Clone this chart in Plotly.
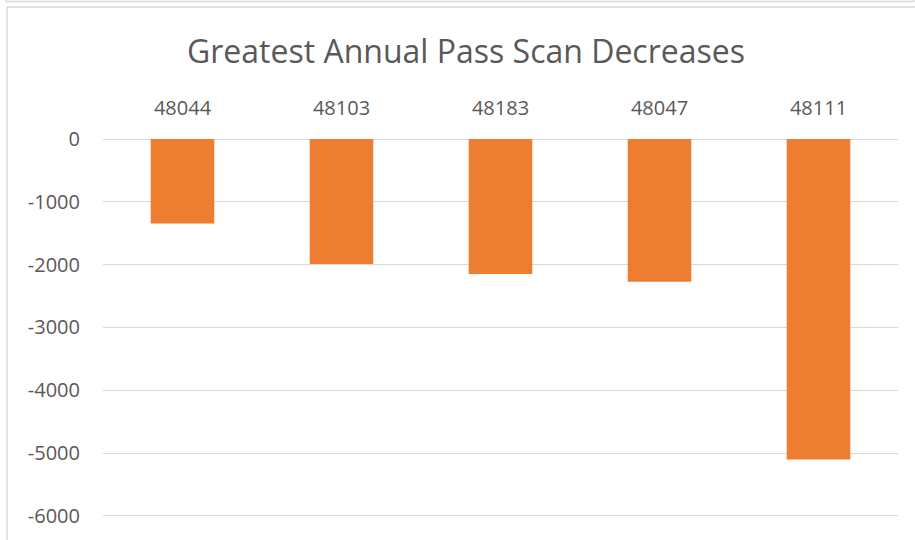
import plotly.graph_objects as go

# data
CATEGORIES = ["48044", "48103", "48183", "48047", "48111"]
DECREASES = [-1345, -1990, -2150, -2270, -5100]
Y_TICKS = [0, -1000, -2000, -3000, -4000, -5000, -6000]

WIDTH, HEIGHT = 915, 540
MARGIN = {"l": 103, "r": 17, "t": 139, "b": 22}

TEXT = "#595959"
GRID = "#D9D9D9"
BAR = "#ED7D31"
FONT = "Open Sans"


def px_to_paper(x, y):
    # pixel position on the page -> paper coords of the plot area
    pw = WIDTH - MARGIN["l"] - MARGIN["r"]
    ph = HEIGHT - MARGIN["t"] - MARGIN["b"]
    return (x - MARGIN["l"]) / pw, (HEIGHT - MARGIN["b"] - y) / ph


def frame_line(x0, y0, x1, y1):
    px0, py0 = px_to_paper(x0, y0)
    px1, py1 = px_to_paper(x1, y1)
    return {
        "type": "line",
        "xref": "paper",
        "yref": "paper",
        "x0": px0,
        "y0": py0,
        "x1": px1,
        "y1": py1,
        "line": {"color": GRID, "width": 1.5},
        "layer": "below",
    }


fig = go.Figure()
fig.add_trace(
    go.Bar(
        x=CATEGORIES,
        y=DECREASES,
        marker={"color": BAR, "line": {"width": 0}},
        hovertemplate="%{x}: %{y}<extra></extra>",
    )
)

fig.update_layout(
    width=WIDTH,
    height=HEIGHT,
    margin=MARGIN,
    paper_bgcolor="white",
    plot_bgcolor="white",
    font={"family": FONT, "color": TEXT, "size": 20},
    showlegend=False,
    bargap=0.6,
    title={
        "text": "Greatest Annual Pass Scan Decreases",
        "font": {"size": 32, "color": TEXT},
        "xref": "container",
        "yref": "container",
        "x": 466 / WIDTH,
        "xanchor": "center",
        "y": 1 - 52 / HEIGHT,
        "yanchor": "middle",
    },
    xaxis={
        "type": "category",
        "side": "top",
        "showgrid": False,
        "showline": False,
        "ticks": "",
        "ticklabelstandoff": 19,
        "tickfont": {"size": 20, "color": TEXT},
    },
    yaxis={
        # a little slack below -6000 so its gridline is drawn
        "range": [-6032, 0],
        "tickvals": Y_TICKS,
        "ticktext": [str(v) for v in Y_TICKS],
        "showgrid": True,
        "gridcolor": GRID,
        "gridwidth": 1,
        "zeroline": True,
        "zerolinecolor": GRID,
        "zerolinewidth": 1,
        "showline": False,
        "ticks": "",
        "ticklabelstandoff": 22,
        "tickfont": {"size": 20, "color": TEXT},
    },
    shapes=[
        # bottom of the box above the chart
        frame_line(6, 1.5, 914, 1.5),
        frame_line(6, 0, 6, 1.5),
        frame_line(914, 0, 914, 1.5),
        # chart frame
        frame_line(7, 7, 915, 7),
        frame_line(7, 7, 7, 540),
    ],
)

# drop the browser's default 8px body margin so the chart sits at 0,0
fig.write_html(
    "out.html",
    config={"displayModeBar": False},
    post_script="document.body.style.margin='0';document.body.style.overflow='hidden';",
)
